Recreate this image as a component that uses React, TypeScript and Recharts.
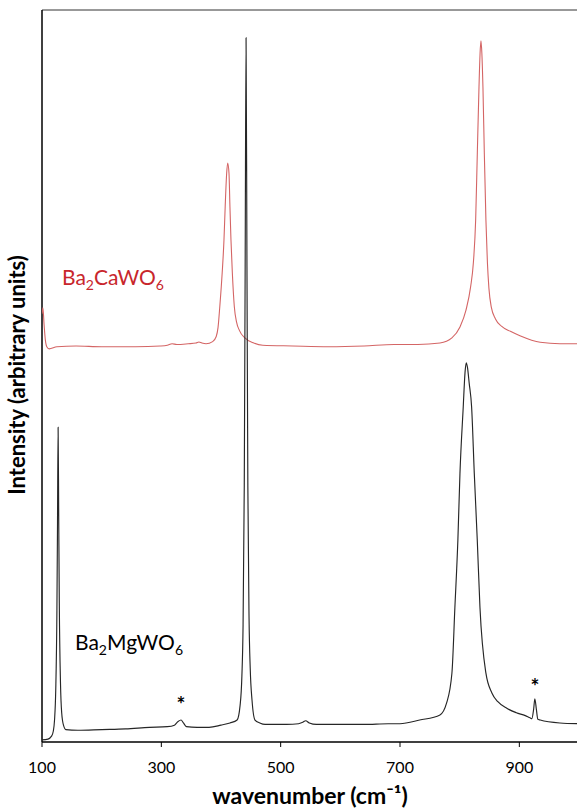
import React from "react";
import { LineChart, Line, XAxis, YAxis, ReferenceLine } from "recharts";

// Ba2MgWO6 (black, lower trace)
const mgWavenumber = [
  100, 110, 116, 119, 121, 123, 125, 126, 127, 128, 129, 131, 133, 136, 140, 160, 200, 240, 280, 310,
  322, 328, 333, 337, 342, 360, 380, 400, 415, 427, 432, 435, 437, 439, 440.5, 442, 443.5, 445, 447, 449,
  452, 457, 465, 474, 490, 510, 530, 537, 542, 548, 560, 600, 640, 680, 700, 733, 767, 778, 787, 792,
  797, 800.5, 806, 809, 811, 813, 816, 820, 824.5, 829.5, 834, 844, 854, 864, 879, 895, 910, 918, 921, 924,
  926, 928.5, 931, 935, 968, 1000,
];
const mgIntensity = [
  0.3, 0.4, 0.8, 1.5, 3, 7, 18, 30, 43, 31, 19, 8, 4, 2.3, 1.7, 1.6, 1.7, 1.8, 2.0, 2.1,
  2.3, 2.8, 3.0, 2.6, 2.1, 2.0, 2.0, 2.3, 2.6, 3.0, 5, 9, 16, 35, 65, 96.2, 65, 35, 17, 10,
  5.7, 3.0, 2.6, 2.4, 2.4, 2.4, 2.5, 2.7, 2.9, 2.6, 2.4, 2.4, 2.4, 2.5, 2.5, 3.0, 3.7, 5.3, 9.4, 18.4,
  27.6, 36.7, 45.8, 50.5, 51.8, 51.2, 49, 45.8, 36.7, 27.6, 18.4, 9.4, 6.7, 5.5, 4.6, 4.0, 3.6, 3.3, 3.2, 4.5,
  5.9, 4.5, 3.1, 3.0, 2.6, 2.5,
];

// Ba2CaWO6 (red, offset upper trace)
const caWavenumber = [
  100, 101.5, 103.5, 105.5, 108, 112, 125, 157, 200, 257, 298, 310, 318, 326, 345, 358, 363, 368, 375, 386,
  392, 395, 398, 402, 405, 407, 409.5, 411.2, 413.4, 415, 416.7, 419, 422.3, 426, 431, 440, 455, 470, 520, 580,
  640, 690, 730, 767, 787, 800.5, 810.6, 818.4, 823, 826.8, 829.6, 832.4, 834.2, 835.7, 837.2, 839, 841.3, 844, 846.5, 849,
  853, 860, 870, 885, 901, 935, 968, 1000,
];
const caIntensity = [
  58.5, 59.3, 57, 55, 54.0, 53.7, 54.0, 54.1, 54.0, 54.0, 54.1, 54.2, 54.4, 54.3, 54.4, 54.5, 54.65, 54.5, 54.4, 54.7,
  55.4, 56.6, 59.5, 64.1, 68.6, 73.1, 77.7, 79.1, 77.7, 73.1, 68.6, 64.1, 59.5, 57.4, 56.2, 55.2, 54.5, 54.2, 54.1, 54.0,
  54.1, 54.3, 54.3, 54.5, 55.2, 56.7, 59.0, 62.2, 65.5, 71.3, 80.5, 89.5, 94.1, 95.8, 94.1, 89.5, 80.5, 71.3, 65.5, 62.0,
  59.4, 57.8, 56.8, 56.1, 55.5, 54.6, 54.4, 54.4,
];

const xTicks = [100, 300, 500, 700, 900];

const mgData = mgWavenumber.map((x, i) => ({ x, y: mgIntensity[i] }));
const caData = caWavenumber.map((x, i) => ({ x, y: caIntensity[i] }));

const FONT = "Lato, 'Open Sans', sans-serif";

export default function App() {
  return (
    <div
      style={{
        position: "absolute",
        left: 0,
        top: 0,
        width: 577,
        height: 809,
        overflow: "hidden",
        background: "#fff",
        fontFamily: FONT,
      }}
    >
      <LineChart width={581} height={809} margin={{ top: 10, right: 2, left: 42, bottom: 0 }}>
        <XAxis
          type="number"
          dataKey="x"
          domain={[100, 1000]}
          ticks={xTicks}
          allowDataOverflow
          height={67}
          tickSize={5}
          tickMargin={15}
          axisLine={{ stroke: "#000", strokeWidth: 1.5 }}
          tickLine={{ stroke: "#000" }}
          tick={{ fill: "#000", fontSize: 16, fontFamily: FONT }}
        />
        <YAxis
          type="number"
          dataKey="y"
          domain={[0, 100]}
          allowDataOverflow
          width={0}
          tick={false}
          tickLine={false}
          axisLine={false}
        />
        <ReferenceLine y={100} stroke="#333" strokeWidth={1} />
        <ReferenceLine x={100} stroke="#000" strokeWidth={1.5} />
        <Line
          data={caData}
          dataKey="y"
          type="monotone"
          stroke="#d46565"
          strokeWidth={1.1}
          dot={false}
          isAnimationActive={false}
        />
        <Line
          data={mgData}
          dataKey="y"
          type="monotone"
          stroke="#262626"
          strokeWidth={1.15}
          dot={false}
          isAnimationActive={false}
        />
      </LineChart>
      <svg
        width={577}
        height={809}
        style={{ position: "absolute", left: 0, top: 0, pointerEvents: "none" }}
        fontFamily={FONT}
      >
        <text x={62} y={285} fill="#c8262c" fontSize={21}>
          Ba<tspan fontSize={14} dy={5}>2</tspan>
          <tspan dy={-5}>CaWO</tspan>
          <tspan fontSize={14} dy={5}>6</tspan>
        </text>
        <text x={75} y={650} fill="#000" fontSize={21}>
          Ba<tspan fontSize={14} dy={5}>2</tspan>
          <tspan dy={-5}>MgWO</tspan>
          <tspan fontSize={14} dy={5}>6</tspan>
        </text>
        <text x={181} y={712} fill="#000" fontSize={21} fontWeight="bold" textAnchor="middle">*</text>
        <text x={535} y={694} fill="#000" fontSize={21} fontWeight="bold" textAnchor="middle">*</text>
        <text
          x={310}
          y={804}
          fill="#000"
          fontSize={23}
          fontWeight="bold"
          textAnchor="middle"
        >
          wavenumber (cm⁻¹)
        </text>
        <text
          x={25}
          y={375}
          fill="#000"
          fontSize={22}
          fontWeight="bold"
          textAnchor="middle"
          transform="rotate(-90 25 375)"
        >
          Intensity (arbitrary units)
        </text>
      </svg>
    </div>
  );
}
